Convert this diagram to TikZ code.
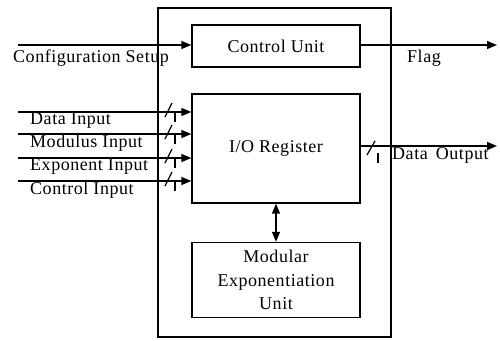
\documentclass[tikz,border=0pt]{standalone}
\usepackage{fontspec}
\setmainfont{Liberation Serif}[LetterSpace=3]
\usetikzlibrary{arrows.meta}

\tikzset{
    txt/.style={font=\fontsize{18}{23.5}\selectfont, inner sep=0pt},
    unitbox/.style={draw, line width=1.4pt, minimum width=168pt, txt, align=center},
    sig/.style={line width=1.5pt, -{Triangle[length=10pt,width=8pt]}}
}

\begin{document}
\begin{tikzpicture}[x=1pt,y=-1pt]
\useasboundingbox (0,0) rectangle (500,340);
% outer chip boundary
\node[draw, line width=1.2pt, minimum width=233pt, minimum height=329pt, inner sep=0pt] (chip) at (274.5,172.5) {};
% internal units
\node[unitbox, minimum height=42pt] (ctrl) at (276,46) {Control Unit};
\node[unitbox, minimum height=109pt] (io) at (276,148.5) {I/O Register};
\node[unitbox, minimum height=75pt] (mexp) at (276,280) {Modular\\Exponentiation\\Unit};
% control path
\coordinate (cfg) at (18,45);
\coordinate (flag) at (497,45);
\draw[sig] (cfg) -- (ctrl.west |- cfg);
\draw[sig] (ctrl.east |- flag) -- (flag);
\node[txt, anchor=north west] (cfglbl) at (13,50) {Configuration Setup};
\node[txt, anchor=north west] (flaglbl) at (407,50) {Flag};
% data inputs with bus marks
\foreach \y/\name in {112/Data Input, 134/Modulus Input, 158/Exponent Input, 181/Control Input} {
    \coordinate (in\y) at (18,\y);
    \draw[sig] (in\y) -- (io.west |- in\y);
    \draw[line width=1.2pt] (165,\y+5) -- (172,\y-9);
    \draw[line width=1.2pt] (175,\y) -- (175,\y+10);
    \node[txt, anchor=north west] (lbl\y) at (30,\y+0.5) {\name};
}
% data output
\coordinate (dout) at (497,146);
\draw[sig] (io.east |- dout) -- (dout);
\draw[line width=1.2pt] (367,155) -- (375,141);
\draw[line width=1.2pt] (378,153) -- (378,163);
\node[txt, anchor=north west] (doutlbl) at (392,147) {Data\hspace{0.45em}Output};
% register <-> exponentiation unit
\draw[line width=1.5pt, {Triangle[length=10pt,width=8pt]}-{Triangle[length=10pt,width=8pt]}] (io.south) -- (mexp.north);
\end{tikzpicture}
\end{document}
